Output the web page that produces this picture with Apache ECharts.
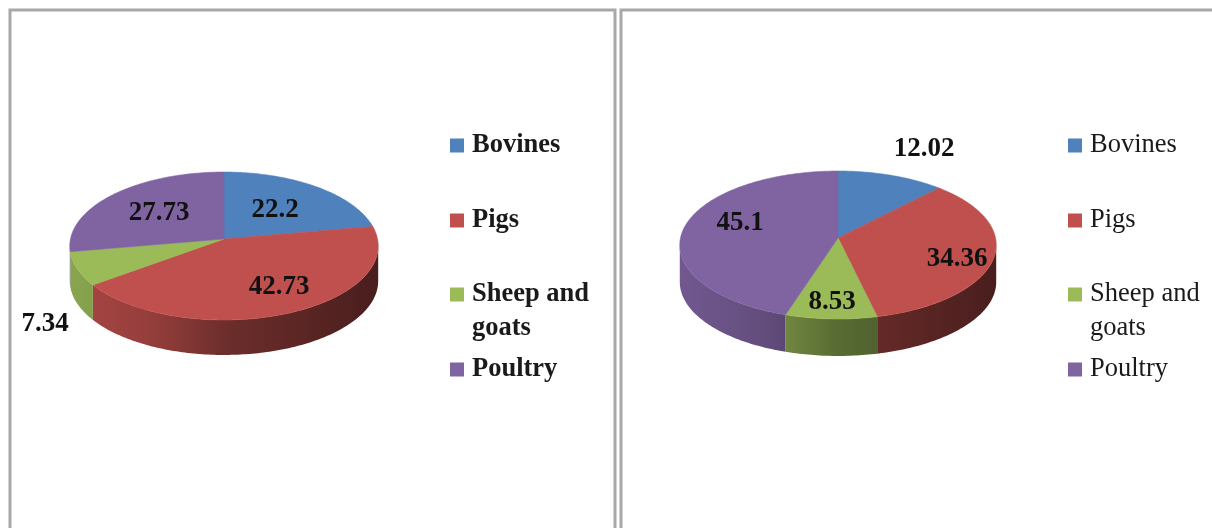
<!DOCTYPE html>
<html><head><meta charset="utf-8">
<style>html,body{margin:0;padding:0;background:#fff}#c{width:1212px;height:528px}</style>
<script src="https://cdn.jsdelivr.net/npm/echarts@6/dist/echarts.min.js"></script>
</head><body><div id="c"></div>
<script>
const categories = ['Bovines', 'Pigs', 'Sheep and goats', 'Poultry'];
const leftValues = [22.2, 42.73, 7.34, 27.73];
const rightValues = [12.02, 34.36, 8.53, 45.1];
const colors = ['#4f81bd', '#c0504d', '#9bbb59', '#8064a2'];

const SERIF = '"Liberation Serif","Times New Roman",serif';
const panels = [
  { values: leftValues, ax: 224, ay: 239, R: 153.5, S: 73.3, k: 0.0946, depth: 35, weight: 'bold',
    legendIcon: 450, labels: [[275,210],[279,287],[45,324],[159,213]] },
  { values: rightValues, ax: 838, ay: 238, R: 157.5, S: 73.3, k: 0.0946, depth: 37, weight: 'normal',
    legendIcon: 1068, labels: [[924,149],[957,259],[832,302],[740,223]] }
];
const legendY = [146, 221, 295, 370];

function rim(p, deg) {
  const t = deg * Math.PI / 180, w = 1 + p.k * Math.cos(t);
  return [p.ax + p.R * Math.sin(t) / w, p.ay - p.S * Math.cos(t) / w];
}
function shade(hex, f) {
  const n = parseInt(hex.slice(1), 16);
  return 'rgb(' + [(n >> 16) & 255, (n >> 8) & 255, n & 255].map(v => Math.round(v * f)).join(',') + ')';
}
function arcDeg(values, i) {
  const total = values.reduce((a, b) => a + b, 0);
  let before = 0;
  for (let j = 0; j < i; j++) before += values[j];
  return [before / total * 360, (before + values[i]) / total * 360];
}

function makeRender(p, i, wallOnly) {
  return function (params, api) {
    const [a0, a1] = arcDeg(p.values, i);
    const children = [];
    if (wallOnly) {
      const vis0 = Math.max(a0, 95.4), vis1 = Math.min(a1, 264.6);
      if (vis1 > vis0) {
        const top = [], bottom = [];
        for (let d = vis0; d < vis1; d += 1) top.push(rim(p, d));
        top.push(rim(p, vis1));
        top.forEach(q => bottom.unshift([q[0], q[1] + p.depth]));
        const base = colors[i];
        const fill = new echarts.graphic.LinearGradient(p.ax - p.R, 0, p.ax + p.R, 0, [
          { offset: 0, color: shade(base, 0.88) },
          { offset: 0.25, color: shade(base, 0.78) },
          { offset: 0.33, color: shade(base, 0.72) },
          { offset: 0.5, color: shade(base, 0.57) },
          { offset: 1, color: shade(base, 0.38) }
        ], true);
        children.push({ type: 'polygon', shape: { points: top.concat(bottom) }, style: { fill: fill } });
      }
    } else {
      const pts = [[p.ax, p.ay]];
      for (let d = a0; d < a1; d += 1) pts.push(rim(p, d));
      pts.push(rim(p, a1));
      children.push({ type: 'polygon', shape: { points: pts },
        style: { fill: colors[i], stroke: colors[i], lineWidth: 0.6 } });
      const lp = p.labels[i];
      children.push({ type: 'text', z2: 50, x: lp[0], y: lp[1],
        style: { text: String(api.value(0)), fill: '#111', align: 'center', verticalAlign: 'middle',
          font: 'bold 27px ' + SERIF } });
    }
    return { type: 'group', children: children };
  };
}

const series = [];
panels.forEach(p => {
  [true, false].forEach(wall => {
    categories.forEach((name, i) => {
      series.push({
        type: 'custom', name: name, coordinateSystem: 'none', silent: true,
        itemStyle: { color: colors[i] }, z: wall ? 2 : 3,
        renderItem: makeRender(p, i, wall), data: [[p.values[i]]]
      });
    });
  });
});

const legends = [];
panels.forEach(p => {
  categories.forEach((name, i) => {
    legends.push({
      data: [name], left: p.legendIcon, top: legendY[i] - 14, orient: 'vertical', padding: 0,
      selectedMode: false, icon: 'rect', itemWidth: 14, itemHeight: 14,
      formatter: n => n.replace(' goats', ''),
      textStyle: { fontFamily: SERIF, fontSize: 26.5, fontWeight: p.weight, color: '#1a1a1a', padding: [3, 0, 0, 3] }
    });
  });
});

const frameColor = '#a8a8a8';
const graphics = [
  { type: 'rect', shape: { x: 10, y: 10, width: 605, height: 540 }, style: { fill: 'none', stroke: frameColor, lineWidth: 3 }, silent: true },
  { type: 'rect', shape: { x: 621, y: 10, width: 620, height: 540 }, style: { fill: 'none', stroke: frameColor, lineWidth: 3 }, silent: true }
];
panels.forEach(p => {
  graphics.push({ type: 'text', left: p.legendIcon + 22, top: 315, z: 10, silent: true,
    style: { text: 'goats', font: p.weight + ' 26.5px ' + SERIF, fill: '#1a1a1a' } });
});

const chart = echarts.init(document.getElementById('c'));
chart.setOption({ animation: false, backgroundColor: '#fff', legend: legends, graphic: graphics, series: series });
</script></body></html>
